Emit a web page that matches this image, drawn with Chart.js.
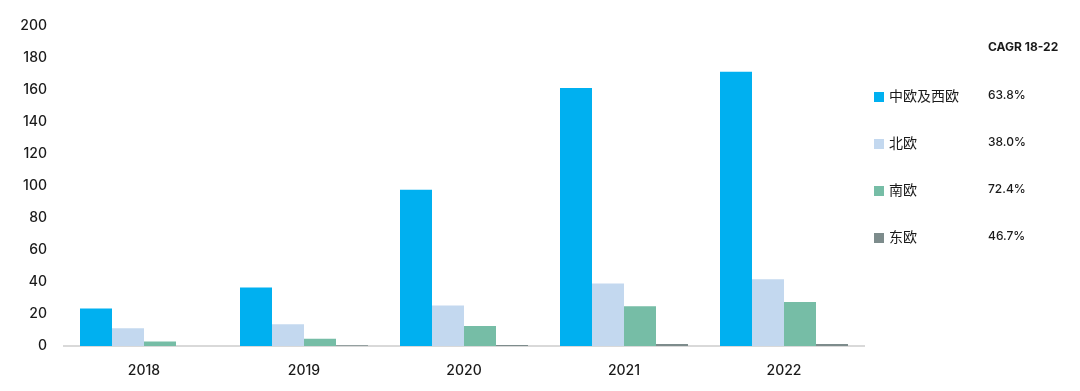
<!DOCTYPE html>
<html>
<head>
<meta charset="utf-8">
<script src="https://cdn.jsdelivr.net/npm/chart.js@4/dist/chart.umd.min.js"></script>
<style>
  html, body { margin: 0; padding: 0; background: #fff; }
  #wrap { width: 1080px; height: 391px; position: relative; }
</style>
</head>
<body>
<div id="wrap"><canvas id="marketChart"></canvas></div>
<script>
// data
const years = ['2018', '2019', '2020', '2021', '2022'];
const regionNames = ['中欧及西欧', '北欧', '南欧', '东欧'];
const westCentral = [23.4, 36.5, 97.4, 161.0, 171.1];
const northern = [11.1, 13.6, 25.2, 39.0, 41.7];
const southern = [2.8, 4.6, 12.5, 24.8, 27.4];
const eastern = [0, 0.4, 0.6, 1.2, 1.2];
const cagrLabels = ['63.8%', '38.0%', '72.4%', '46.7%'];
const cagrTitle = 'CAGR 18-22';

const colors = ['#00b0f0', '#c3d8ef', '#76bda6', '#7d8c8c'];
const fontFamily = 'Inter, "Noto Sans CJK SC", sans-serif';
const textColor = '#1a1a1a';

// right-hand legend with the CAGR column
const sideLegend = {
    id: 'sideLegend',
    afterDraw(chart) {
        const ctx = chart.ctx;
        const rowsY = [97, 144, 191, 238];
        ctx.save();
        ctx.textBaseline = 'middle';
        ctx.textAlign = 'left';
        ctx.fillStyle = textColor;
        ctx.font = 'bold 12px ' + fontFamily;
        ctx.fillText(cagrTitle, 988, 47);
        regionNames.forEach((name, i) => {
            const y = rowsY[i];
            ctx.fillStyle = colors[i];
            ctx.fillRect(874, y - 5, 10, 10);
            ctx.fillStyle = textColor;
            ctx.font = '14px ' + fontFamily;
            ctx.fillText(name, 889, y);
            ctx.font = '500 12px ' + fontFamily;
            ctx.fillText(cagrLabels[i], 988, y - 2);
        });
        ctx.restore();
    }
};

const seriesValues = [westCentral, northern, southern, eastern];

new Chart(document.getElementById('marketChart'), {
    type: 'bar',
    data: {
        labels: years,
        datasets: regionNames.map((name, i) => ({
            label: name,
            data: seriesValues[i],
            backgroundColor: colors[i],
            borderWidth: 0,
            categoryPercentage: 0.8,
            barPercentage: 1.0
        }))
    },
    options: {
        responsive: true,
        maintainAspectRatio: false,
        animation: false,
        layout: { padding: { top: 23, right: 216, bottom: 0, left: 0 } },
        plugins: {
            legend: { display: false },
            tooltip: { enabled: false }
        },
        scales: {
            x: {
                grid: { display: false, drawTicks: false },
                border: { display: true, color: '#d9d9d9', width: 2 },
                ticks: { color: textColor, font: { family: fontFamily, size: 14, weight: '500' }, padding: 16 },
                afterFit(scale) { scale.height = 45; }
            },
            y: {
                min: 0,
                max: 200,
                grid: { display: false, drawTicks: false },
                border: { display: false },
                ticks: { stepSize: 20, color: textColor, font: { family: fontFamily, size: 14, weight: '500' }, padding: 17 },
                afterFit(scale) { scale.width = 64; }
            }
        }
    },
    plugins: [sideLegend]
});
</script>
</body>
</html>
